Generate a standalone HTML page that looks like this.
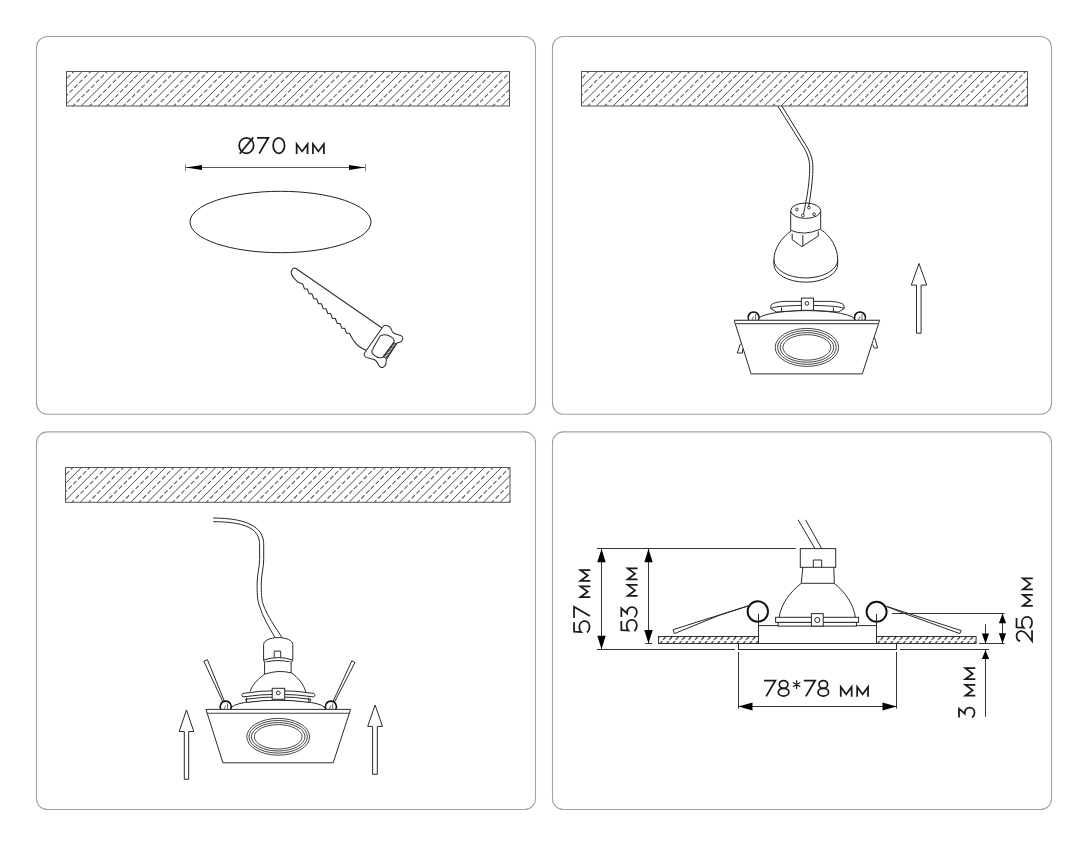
<!DOCTYPE html>
<html><head><meta charset="utf-8">
<style>
html,body{margin:0;padding:0;background:#fff;width:1088px;height:846px;overflow:hidden}
svg{display:block}
</style></head><body>
<svg width="1088" height="846" viewBox="0 0 1088 846">
<defs>
<pattern id="hat2" patternUnits="userSpaceOnUse" width="6.4" height="7" x="0" y="636.5" patternTransform="skewX(-40)">
<path d="M3.2,0 V3.3 M3.2,4.3 V7" stroke="#2a2a2a" stroke-width="1.55" fill="none"/>
</pattern>
</defs>

<g fill="none" stroke="#a2a2a2" stroke-width="1.1">
<rect x="36.5" y="36.5" width="499" height="377.8" rx="11"/>
<rect x="552.5" y="36.5" width="499" height="377.8" rx="11"/>
<rect x="36.5" y="431.9" width="499" height="377.6" rx="11"/>
<rect x="552.5" y="431.9" width="499" height="377.6" rx="11"/>
</g>
<clipPath id="cb1"><rect x="66.5" y="71.5" width="443.0" height="34.5"/></clipPath>
<g clip-path="url(#cb1)"><path d="M29.90,107.00 L66.40,70.50 M46.70,107.00 L83.20,70.50 M63.50,107.00 L100.00,70.50 M80.30,107.00 L116.80,70.50 M97.10,107.00 L133.60,70.50 M113.90,107.00 L150.40,70.50 M130.70,107.00 L167.20,70.50 M147.50,107.00 L184.00,70.50 M164.30,107.00 L200.80,70.50 M181.10,107.00 L217.60,70.50 M197.90,107.00 L234.40,70.50 M214.70,107.00 L251.20,70.50 M231.50,107.00 L268.00,70.50 M248.30,107.00 L284.80,70.50 M265.10,107.00 L301.60,70.50 M281.90,107.00 L318.40,70.50 M298.70,107.00 L335.20,70.50 M315.50,107.00 L352.00,70.50 M332.30,107.00 L368.80,70.50 M349.10,107.00 L385.60,70.50 M365.90,107.00 L402.40,70.50 M382.70,107.00 L419.20,70.50 M399.50,107.00 L436.00,70.50 M416.30,107.00 L452.80,70.50 M433.10,107.00 L469.60,70.50 M449.90,107.00 L486.40,70.50 M466.70,107.00 L503.20,70.50 M483.50,107.00 L520.00,70.50 M500.30,107.00 L536.80,70.50 " fill="none" stroke="#4e4e4e" stroke-width="1.0"/><path d="M38.30,107.00 L74.80,70.50 M55.10,107.00 L91.60,70.50 M71.90,107.00 L108.40,70.50 M88.70,107.00 L125.20,70.50 M105.50,107.00 L142.00,70.50 M122.30,107.00 L158.80,70.50 M139.10,107.00 L175.60,70.50 M155.90,107.00 L192.40,70.50 M172.70,107.00 L209.20,70.50 M189.50,107.00 L226.00,70.50 M206.30,107.00 L242.80,70.50 M223.10,107.00 L259.60,70.50 M239.90,107.00 L276.40,70.50 M256.70,107.00 L293.20,70.50 M273.50,107.00 L310.00,70.50 M290.30,107.00 L326.80,70.50 M307.10,107.00 L343.60,70.50 M323.90,107.00 L360.40,70.50 M340.70,107.00 L377.20,70.50 M357.50,107.00 L394.00,70.50 M374.30,107.00 L410.80,70.50 M391.10,107.00 L427.60,70.50 M407.90,107.00 L444.40,70.50 M424.70,107.00 L461.20,70.50 M441.50,107.00 L478.00,70.50 M458.30,107.00 L494.80,70.50 M475.10,107.00 L511.60,70.50 M491.90,107.00 L528.40,70.50 M508.70,107.00 L545.20,70.50 " fill="none" stroke="#606060" stroke-width="1.1" stroke-dasharray="4.6 2.2"/></g>
<rect x="66.5" y="71.5" width="443.0" height="34.5" fill="none" stroke="#555" stroke-width="1"/>
<clipPath id="cb2"><rect x="581.5" y="71.5" width="446.0" height="34.5"/></clipPath>
<g clip-path="url(#cb2)"><path d="M544.90,107.00 L581.40,70.50 M561.70,107.00 L598.20,70.50 M578.50,107.00 L615.00,70.50 M595.30,107.00 L631.80,70.50 M612.10,107.00 L648.60,70.50 M628.90,107.00 L665.40,70.50 M645.70,107.00 L682.20,70.50 M662.50,107.00 L699.00,70.50 M679.30,107.00 L715.80,70.50 M696.10,107.00 L732.60,70.50 M712.90,107.00 L749.40,70.50 M729.70,107.00 L766.20,70.50 M746.50,107.00 L783.00,70.50 M763.30,107.00 L799.80,70.50 M780.10,107.00 L816.60,70.50 M796.90,107.00 L833.40,70.50 M813.70,107.00 L850.20,70.50 M830.50,107.00 L867.00,70.50 M847.30,107.00 L883.80,70.50 M864.10,107.00 L900.60,70.50 M880.90,107.00 L917.40,70.50 M897.70,107.00 L934.20,70.50 M914.50,107.00 L951.00,70.50 M931.30,107.00 L967.80,70.50 M948.10,107.00 L984.60,70.50 M964.90,107.00 L1001.40,70.50 M981.70,107.00 L1018.20,70.50 M998.50,107.00 L1035.00,70.50 M1015.30,107.00 L1051.80,70.50 " fill="none" stroke="#4e4e4e" stroke-width="1.0"/><path d="M553.30,107.00 L589.80,70.50 M570.10,107.00 L606.60,70.50 M586.90,107.00 L623.40,70.50 M603.70,107.00 L640.20,70.50 M620.50,107.00 L657.00,70.50 M637.30,107.00 L673.80,70.50 M654.10,107.00 L690.60,70.50 M670.90,107.00 L707.40,70.50 M687.70,107.00 L724.20,70.50 M704.50,107.00 L741.00,70.50 M721.30,107.00 L757.80,70.50 M738.10,107.00 L774.60,70.50 M754.90,107.00 L791.40,70.50 M771.70,107.00 L808.20,70.50 M788.50,107.00 L825.00,70.50 M805.30,107.00 L841.80,70.50 M822.10,107.00 L858.60,70.50 M838.90,107.00 L875.40,70.50 M855.70,107.00 L892.20,70.50 M872.50,107.00 L909.00,70.50 M889.30,107.00 L925.80,70.50 M906.10,107.00 L942.60,70.50 M922.90,107.00 L959.40,70.50 M939.70,107.00 L976.20,70.50 M956.50,107.00 L993.00,70.50 M973.30,107.00 L1009.80,70.50 M990.10,107.00 L1026.60,70.50 M1006.90,107.00 L1043.40,70.50 M1023.70,107.00 L1060.20,70.50 " fill="none" stroke="#606060" stroke-width="1.1" stroke-dasharray="4.6 2.2"/></g>
<rect x="581.5" y="71.5" width="446.0" height="34.5" fill="none" stroke="#555" stroke-width="1"/>
<clipPath id="cb3"><rect x="65.5" y="467.5" width="444.5" height="34.80000000000001"/></clipPath>
<g clip-path="url(#cb3)"><path d="M12.00,503.30 L48.80,466.50 M28.80,503.30 L65.60,466.50 M45.60,503.30 L82.40,466.50 M62.40,503.30 L99.20,466.50 M79.20,503.30 L116.00,466.50 M96.00,503.30 L132.80,466.50 M112.80,503.30 L149.60,466.50 M129.60,503.30 L166.40,466.50 M146.40,503.30 L183.20,466.50 M163.20,503.30 L200.00,466.50 M180.00,503.30 L216.80,466.50 M196.80,503.30 L233.60,466.50 M213.60,503.30 L250.40,466.50 M230.40,503.30 L267.20,466.50 M247.20,503.30 L284.00,466.50 M264.00,503.30 L300.80,466.50 M280.80,503.30 L317.60,466.50 M297.60,503.30 L334.40,466.50 M314.40,503.30 L351.20,466.50 M331.20,503.30 L368.00,466.50 M348.00,503.30 L384.80,466.50 M364.80,503.30 L401.60,466.50 M381.60,503.30 L418.40,466.50 M398.40,503.30 L435.20,466.50 M415.20,503.30 L452.00,466.50 M432.00,503.30 L468.80,466.50 M448.80,503.30 L485.60,466.50 M465.60,503.30 L502.40,466.50 M482.40,503.30 L519.20,466.50 M499.20,503.30 L536.00,466.50 " fill="none" stroke="#4e4e4e" stroke-width="1.0"/><path d="M20.40,503.30 L57.20,466.50 M37.20,503.30 L74.00,466.50 M54.00,503.30 L90.80,466.50 M70.80,503.30 L107.60,466.50 M87.60,503.30 L124.40,466.50 M104.40,503.30 L141.20,466.50 M121.20,503.30 L158.00,466.50 M138.00,503.30 L174.80,466.50 M154.80,503.30 L191.60,466.50 M171.60,503.30 L208.40,466.50 M188.40,503.30 L225.20,466.50 M205.20,503.30 L242.00,466.50 M222.00,503.30 L258.80,466.50 M238.80,503.30 L275.60,466.50 M255.60,503.30 L292.40,466.50 M272.40,503.30 L309.20,466.50 M289.20,503.30 L326.00,466.50 M306.00,503.30 L342.80,466.50 M322.80,503.30 L359.60,466.50 M339.60,503.30 L376.40,466.50 M356.40,503.30 L393.20,466.50 M373.20,503.30 L410.00,466.50 M390.00,503.30 L426.80,466.50 M406.80,503.30 L443.60,466.50 M423.60,503.30 L460.40,466.50 M440.40,503.30 L477.20,466.50 M457.20,503.30 L494.00,466.50 M474.00,503.30 L510.80,466.50 M490.80,503.30 L527.60,466.50 M507.60,503.30 L544.40,466.50 " fill="none" stroke="#606060" stroke-width="1.1" stroke-dasharray="4.6 2.2"/></g>
<rect x="65.5" y="467.5" width="444.5" height="34.80000000000001" fill="none" stroke="#555" stroke-width="1"/>
<g fill="none" stroke="#1a1a1a" stroke-width="1.75" stroke-linecap="butt"><ellipse cx="246.40" cy="145.50" rx="7.25" ry="7.75"/><path d="M239.70,153.70 L253.30,137.40"/><path d="M257.10,137.75 L268.40,137.75 L259.20,153.60"/><ellipse cx="278.85" cy="145.50" rx="5.70" ry="7.75"/><path d="M296.65,154.00 L296.65,144.10 L302.10,151.40 L307.55,144.10 L307.55,154.00" stroke-linejoin="miter"/><path d="M312.95,154.00 L312.95,144.10 L318.40,151.40 L323.85,144.10 L323.85,154.00" stroke-linejoin="miter"/></g>
<g stroke="#444" stroke-width="0.9" fill="none">
<line x1="186" y1="167.5" x2="365" y2="167.5"/>
<line x1="185.5" y1="164.2" x2="185.5" y2="171" stroke="#777"/>
<line x1="365.5" y1="164.2" x2="365.5" y2="171" stroke="#777"/>
</g>
<path d="M186,167.5 L202,165 L202,170 Z M365,167.5 L349,165 L349,170 Z" fill="#000"/>
<ellipse cx="280.5" cy="222" rx="90.5" ry="30.7" fill="none" stroke="#222" stroke-width="1"/>
<path d="M381.7,327.8 L296.0,268.5 C293.5,267.0 290.8,270.0 291.3,273.3 C291.8,276 295,279.5 298.5,282.5 L302.7,284.0 L302.70,284.00 L304.44,288.90 L307.37,288.93 L309.11,293.83 L312.04,293.86 L313.78,298.76 L316.71,298.79 L318.45,303.69 L321.38,303.72 L323.12,308.62 L326.05,308.65 L327.79,313.55 L330.72,313.58 L332.46,318.48 L335.39,318.51 L337.13,323.41 L340.06,323.44 L341.80,328.34 L344.73,328.37 L346.47,333.27 L349.40,333.30 C352.5,339.5 356.5,347 366.4,350.2" fill="none" stroke="#2e2e2e" stroke-width="1.05" stroke-linejoin="round"/>
<path d="M364.4,353.2 L383.6,325.8 C385,324.6 388.5,325.5 390.1,327.2 C391.5,329 391.5,331.5 393.5,333 C396,334.8 400.5,334.5 402.3,336.8 C403.6,338.6 402.5,341.5 399.8,342.2 C398.5,342.6 397.6,342.7 397.3,342.8 L386.2,359.7 C386.5,362.5 386,365.5 383.5,367 C381,368.3 379.3,366.5 378.3,364.5 C377.3,362 376.5,360.3 373.5,359.3 C370.5,358.3 366.5,358.5 365,356.5 C364,355.3 364,354.2 364.4,353.2 Z" fill="#fff" stroke="#2e2e2e" stroke-width="1.05" stroke-linejoin="round"/>
<path d="M381.5,335.2 C386,334 391,336 393.5,339 C394.5,340.5 394.3,341.8 393.6,342.6 L382.6,357.2 C380,358.2 376.5,357.5 374,355.2 C371.5,353 371.5,351 372.5,349.5 L379.5,337 C380,336 380.6,335.5 381.5,335.2 Z" fill="#fff" stroke="#2e2e2e" stroke-width="1.05"/>
<path d="M394.2,342.3 L383.2,357.8 M396.8,343.0 L385.8,359.0 M393.70,343.00 L396.30,343.73 M392.70,344.41 L395.30,345.18 M391.70,345.82 L394.30,346.64 M390.70,347.23 L393.30,348.09 M389.70,348.64 L392.30,349.55 M388.70,350.05 L391.30,351.00 M387.70,351.46 L390.30,352.45 M386.70,352.87 L389.30,353.91 M385.70,354.28 L388.30,355.36 M384.70,355.69 L387.30,356.82 M383.70,357.10 L386.30,358.27 " fill="none" stroke="#2a2a2a" stroke-width="0.9"/>
<path d="M790.7,210.7 V230.2 Q804,236.5 820.7,229 V210.7" fill="#fff" stroke="#2a2a2a" stroke-width="1"/>
<ellipse cx="805.7" cy="210.7" rx="15" ry="7.7" fill="#fff" stroke="#2a2a2a" stroke-width="1"/>
<path d="M777.7,106 L801,143 C806.5,151.5 809.7,158 809.7,168 C809.7,176 808.6,186 807,196 L803.3,215.1 M781.9,106 L804.5,143 C810,151.5 812.9,158 812.9,168 C812.9,176 811.8,186 810.2,197 L808.6,206.6" fill="none" stroke="#2a2a2a" stroke-width="1"/>
<g fill="#fff" stroke="#2a2a2a" stroke-width="0.9">
<circle cx="796.9" cy="209.5" r="1.4"/>
<circle cx="814" cy="214.2" r="1.4"/>
<circle cx="802.8" cy="215.4" r="1.4"/>
<circle cx="808.9" cy="207.6" r="1.4"/>
</g>
<path d="M792.2,233.7 V239.6 L801.8,246.7 L818.2,236.1 V231.4 M802.8,234.8 V246.2" fill="none" stroke="#2a2a2a" stroke-width="1"/>
<path d="M791.2,231 C781,238 774,249 773.9,259.7 V264.4 M820.6,229.4 C831,236 837.7,248 837.7,259.7 V264.4" fill="none" stroke="#2a2a2a" stroke-width="1"/>
<path d="M773.9,259.7 A31.9,18.3 0 0 0 837.7,259.7 M773.9,264.4 A31.9,17.8 0 0 0 837.7,264.4" fill="none" stroke="#2a2a2a" stroke-width="1"/>
<path d="M757.9,319.8 A48.4,9.2 0 0 1 854.7,319.8" fill="none" stroke="#2a2a2a" stroke-width="1"/>
<path d="M801.4,301.4 L784,301.4 C777,301.8 772,303.5 771.2,305 C770.6,306.2 770.7,307.6 770.8,308.5 M801.4,305.4 C792,305.6 781.5,306.2 777,306.8 C774,307.3 772,307.9 770.8,308.5 L776.2,312 C785,311.5 793,310.8 801.4,310.3 M781.5,307.4 V311.8" fill="#fff" stroke="#2a2a2a" stroke-width="1"/>
<path d="M801.4,301.4 L784,301.4 C777,301.8 772,303.5 771.2,305 C770.6,306.2 770.7,307.6 770.8,308.5 M801.4,305.4 C792,305.6 781.5,306.2 777,306.8 C774,307.3 772,307.9 770.8,308.5 L776.2,312 C785,311.5 793,310.8 801.4,310.3 M781.5,307.4 V311.8" fill="#fff" stroke="#2a2a2a" stroke-width="1" transform="translate(1614.9,0) scale(-1,1)"/>
<rect x="801.4" y="298.1" width="12.1" height="12.2" fill="#fff" stroke="#2a2a2a" stroke-width="1"/>
<circle cx="806.9" cy="303.4" r="1.9" fill="none" stroke="#2a2a2a" stroke-width="1"/>
<path d="M748.8,320.2 A5.5,5.5 0 1 1 758.4,320.2" fill="#fff" stroke="#111" stroke-width="1.6"/>
<path d="M755.6,314 V320 M752.0,320 L753.7,316.4" fill="none" stroke="#444" stroke-width="0.8"/>
<path d="M855.2,320.2 A5.5,5.5 0 1 1 864.8,320.2" fill="#fff" stroke="#111" stroke-width="1.6"/>
<path d="M862.0,314 V320 M858.4,320 L860.1,316.4" fill="none" stroke="#444" stroke-width="0.8"/>
<path d="M734.2,320.4 L751.1,373.9 H862.3 L879.6,320.4 Z" fill="#fff" stroke="#2a2a2a" stroke-width="1"/>
<path d="M734.2,320.4 H879.6 M735.5,323.6 H878.5" fill="none" stroke="#555" stroke-width="1.1"/>
<path d="M740.4,343.8 L737.3,353 L742.3,353 L743,348 M874.6,337.6 L877.6,348 L874.2,348 L872.6,344.6" fill="#fff" stroke="#2a2a2a" stroke-width="1"/>
<g fill="none" stroke="#333" stroke-width="0.9">
<ellipse cx="806.9" cy="347.4" rx="31.7" ry="19.0"/>
<ellipse cx="806.9" cy="347.4" rx="29.3" ry="16.9"/>
<ellipse cx="806.9" cy="347.4" rx="26.8" ry="14.8"/>
<ellipse cx="806.9" cy="347.4" rx="24.0" ry="12.75"/>
</g>
<path d="M919,263.5 L926.7,285.1 L921.1,285.1 L921.1,333.2 L916.5,333.2 L916.5,285.1 L911.3,285.1 Z" fill="none" stroke="#2a2a2a" stroke-width="1" stroke-linejoin="miter"/>
<path d="M213.2,518 C228,518.3 246,519.5 256.3,528.2 C262,533 263.7,538 263.7,545 L263.7,559.7 C263.7,567 261.3,575 261.3,583 C261.3,592 261.5,600 263,604 C267,616 276,628 282.2,637.8 M213.2,521.6 C228,521.9 244,523 253,529.9 C258.3,534.5 259.6,539 259.6,546 L259.6,559.7 C259.6,567 257.1,575 257.1,583 C257.1,592 257.3,600 258.8,604 C262.5,617 269.5,628 275.2,637.8" fill="none" stroke="#2a2a2a" stroke-width="1"/>
<path d="M263.6,660.1 V644.5 C263.6,640.5 270,637.6 278.2,637.6 C286.5,637.6 292.8,640.5 292.8,644.5 V660.1 Q278.2,655 263.6,660.1 Z" fill="#fff" stroke="#2a2a2a" stroke-width="1"/>
<path d="M274.2,657.6 V651.1 H280.7 V657.6" fill="none" stroke="#2a2a2a" stroke-width="1"/>
<path d="M263.6,660.1 L264.4,662.3 Q278.2,658.8 291.4,662.3 L292.8,660.1" fill="none" stroke="#2a2a2a" stroke-width="1"/>
<path d="M264.6,662.2 L264.6,674.2 Q278,669.6 291.2,672.8 L291.1,662.2" fill="#fff" stroke="#2a2a2a" stroke-width="1"/>
<path d="M264.6,674.2 C258,679 252,685 250.1,691.5 M291.2,672.8 C298,677 304,685 305.8,692" fill="none" stroke="#2a2a2a" stroke-width="1"/>
<path d="M231,708.5 A47,8.5 0 0 1 325,708.5" fill="none" stroke="#2a2a2a" stroke-width="1"/>
<path d="M245.5,699.3 Q278.2,694.5 311,699.3 L309.5,702.4 Q278.2,698 247,702.4 Z" fill="#fff" stroke="#2a2a2a" stroke-width="1"/>
<path d="M243,693.4 Q278.2,687.8 313.8,693.4 C315.3,694.2 315.3,696.3 313.8,696.9 Q278.2,691.6 243,696.9 C241.5,696.3 241.5,694.2 243,693.4 Z" fill="#fff" stroke="#2a2a2a" stroke-width="1"/>
<path d="M246.6,697.5 V702.3 M308.8,697.5 V702.3" fill="none" stroke="#2a2a2a" stroke-width="1"/>
<rect x="272.2" y="688.3" width="12.5" height="11" fill="#fff" stroke="#2a2a2a" stroke-width="1"/>
<circle cx="278.3" cy="692.9" r="1.9" fill="none" stroke="#2a2a2a" stroke-width="1"/>
<path d="M203.8,661.3 L207.4,659.7 L224.6,701.8 L223.2,702.4 Z M351.8,660.9 L355.0,662.5 L334.6,701.8 L333.2,701.2 Z" fill="#fff" stroke="#2a2a2a" stroke-width="1"/>
<path d="M220.9,709.3 A5.5,5.5 0 1 1 230.5,709.3" fill="#fff" stroke="#111" stroke-width="1.6"/>
<path d="M227.5,703.5 V709 M224.1,709 L225.8,705.5" fill="none" stroke="#444" stroke-width="0.8"/>
<path d="M326.1,709.3 A5.5,5.5 0 1 1 335.7,709.3" fill="#fff" stroke="#111" stroke-width="1.6"/>
<path d="M332.7,703.5 V709 M329.3,709 L331.0,705.5" fill="none" stroke="#444" stroke-width="0.8"/>
<path d="M206,709.4 L222.9,762.8 H333.2 L350.6,709.4 Z" fill="#fff" stroke="#2a2a2a" stroke-width="1"/>
<path d="M205.6,709.5 H350.7 M206.3,713.3 H350.2" fill="none" stroke="#444" stroke-width="1.1"/>
<g fill="none" stroke="#333" stroke-width="0.9">
<ellipse cx="278.2" cy="736.8" rx="31.4" ry="18.4"/>
<ellipse cx="278.2" cy="736.8" rx="29.2" ry="16.3"/>
<ellipse cx="278.2" cy="736.8" rx="26.8" ry="14.2"/>
<ellipse cx="278.2" cy="736.8" rx="23.9" ry="12.2"/>
</g>
<path d="M186.5,709.9 L193.8,731.5 L188.7,731.5 L188.7,779.3 L184.3,779.3 L184.3,731.5 L179.2,731.5 Z" fill="none" stroke="#2a2a2a" stroke-width="1" stroke-linejoin="miter"/>
<path d="M375.1,705.0 L382.5,726.4 L377.3,726.4 L377.3,774.3 L372.6,774.3 L372.6,726.4 L367.7,726.4 Z" fill="none" stroke="#2a2a2a" stroke-width="1" stroke-linejoin="miter"/>
<rect x="658.5" y="636.5" width="100" height="7" fill="url(#hat2)" stroke="#333" stroke-width="1"/>
<rect x="876.5" y="636.5" width="99.6" height="7" fill="url(#hat2)" stroke="#333" stroke-width="1"/>
<path d="M758.5,613.8 V643.5 M876.5,613.8 V643.5 M758.5,625.6 H876.5" fill="none" stroke="#2a2a2a" stroke-width="1"/>
<rect x="738.5" y="643.5" width="158" height="6" fill="#fff" stroke="#2a2a2a" stroke-width="1"/>
<circle cx="757.8" cy="611.5" r="10.2" fill="#fff" stroke="#111" stroke-width="1.9"/>
<circle cx="876.6" cy="611.8" r="10.0" fill="#fff" stroke="#111" stroke-width="1.9"/>
<path d="M758.5,613.8 V636.5 M876.5,614 V636.5" fill="none" stroke="#2a2a2a" stroke-width="1"/>
<path d="M674.4,633.6 L673.2,629.6 L748.2,605.9 L718,615.8 Z M886.4,606.3 L961.2,630.6 L959.8,633.6 L902,612.6 Z" fill="#fff" stroke="#2a2a2a" stroke-width="1" stroke-linejoin="round"/>
<path d="M798.1,519.8 L815,548.6 M805.5,519.8 L821.7,548.6" fill="none" stroke="#2a2a2a" stroke-width="1"/>
<rect x="800.3" y="548.6" width="35.4" height="18.7" fill="#fff" stroke="#2a2a2a" stroke-width="1"/>
<path d="M813.3,567.3 V560 H821.7 V567.3" fill="none" stroke="#2a2a2a" stroke-width="1"/>
<path d="M802.8,567.3 L801.3,583.3 H834.3 L833.8,567.3" fill="none" stroke="#2a2a2a" stroke-width="1"/>
<path d="M801.3,583.3 C790,592 781,604 779.2,617.3 M834.3,583.3 C845,592 853.5,604 855.4,617.3" fill="none" stroke="#2a2a2a" stroke-width="1"/>
<rect x="775.6" y="617.3" width="83" height="5.1" fill="#fff" stroke="#2a2a2a" stroke-width="1"/>
<rect x="778.1" y="622.4" width="78.3" height="3.7" fill="#fff" stroke="#2a2a2a" stroke-width="1"/>
<rect x="811.4" y="613.6" width="11.8" height="12.5" fill="#fff" stroke="#2a2a2a" stroke-width="1"/>
<circle cx="817.3" cy="620" r="2.6" fill="none" stroke="#2a2a2a" stroke-width="1"/>
<path d="M596.9,548.5 H795.7 M596.9,649.5 H735 M601.5,548.7 V649.1 M648.5,548.7 V643.4 M645.3,643.5 H652.2" fill="none" stroke="#2a2a2a" stroke-width="0.95"/>
<path d="M892,613.5 H1004.6 M979,643.5 H1004.6 M1002.5,613.2 V643.4 M899.9,649.5 H989 M985.5,624.2 V643.4 M985.5,649.9 V716.7" fill="none" stroke="#2a2a2a" stroke-width="0.95"/>
<path d="M738.5,652 V708.6 M896.5,652 V708.6 M738.5,706.5 H896.5" fill="none" stroke="#2a2a2a" stroke-width="0.95"/>
<path d="M601.5,548.7 L605.7,562.3 L597.3,562.3 Z M601.5,649.3 L605.7,635.7 L597.3,635.7 Z M648.5,548.7 L652.7,562.3 L644.3,562.3 Z M648.5,643.5 L652.7,629.9 L644.3,629.9 Z M1002.5,613.4 L1006.1,623.3 L998.9,623.3 Z M1002.5,643.5 L1006.1,633.3 L998.9,633.3 Z M985.5,643.5 L989.1,633.4 L981.9,633.4 Z M985.5,649.9 L989.1,659.1 L981.9,659.1 Z M738.5,706.5 L752.5,710.5 L752.5,702.5 Z M896.5,706.5 L882.5,710.5 L882.5,702.5 Z " fill="#000"/>
<g fill="none" stroke="#1a1a1a" stroke-width="1.75" stroke-linecap="butt"><path d="M764.10,680.55 L775.40,680.55 L766.20,696.40"/><ellipse cx="783.60" cy="684.40" rx="4.30" ry="3.85"/><ellipse cx="783.60" cy="692.15" rx="5.30" ry="3.90"/><path d="M796.60,684.60 L796.60,680.30 M796.60,684.60 L800.32,682.45 M796.60,684.60 L792.88,682.45 M796.60,684.60 L792.88,686.75 M796.60,684.60 L800.32,686.75 M796.60,684.60 L796.60,688.90 " stroke-width="1.20"/><path d="M803.80,680.55 L815.10,680.55 L805.90,696.40"/><ellipse cx="823.30" cy="684.40" rx="4.30" ry="3.85"/><ellipse cx="823.30" cy="692.15" rx="5.30" ry="3.90"/><path d="M840.75,696.80 L840.75,686.90 L846.20,694.20 L851.65,686.90 L851.65,696.80" stroke-linejoin="miter"/><path d="M857.15,696.80 L857.15,686.90 L862.60,694.20 L868.05,686.90 L868.05,696.80" stroke-linejoin="miter"/></g>
<g fill="none" stroke="#1a1a1a" stroke-width="1.75" stroke-linecap="butt" transform="translate(590.3,633.6) rotate(-90)"><path d="M11.30,-16.25 L2.00,-16.25 L1.60,-9.20 C3.00,-10.60 4.80,-11.00 6.60,-11.00 C10.00,-11.00 12.40,-8.60 12.40,-5.70 C12.40,-2.60 9.90,-0.75 6.60,-0.75 C4.30,-0.75 2.40,-1.80 1.10,-3.20"/><path d="M15.50,-16.25 L26.80,-16.25 L17.60,-0.40"/><path d="M36.35,0.00 L36.35,-9.90 L41.80,-2.60 L47.25,-9.90 L47.25,0.00" stroke-linejoin="miter"/><path d="M52.65,0.00 L52.65,-9.90 L58.10,-2.60 L63.55,-9.90 L63.55,0.00" stroke-linejoin="miter"/></g>
<g fill="none" stroke="#1a1a1a" stroke-width="1.75" stroke-linecap="butt" transform="translate(637.6,632.2) rotate(-90)"><path d="M11.30,-16.25 L2.00,-16.25 L1.60,-9.20 C3.00,-10.60 4.80,-11.00 6.60,-11.00 C10.00,-11.00 12.40,-8.60 12.40,-5.70 C12.40,-2.60 9.90,-0.75 6.60,-0.75 C4.30,-0.75 2.40,-1.80 1.10,-3.20"/><path d="M15.08,-16.25 L23.90,-16.25 L18.86,-10.60 C22.64,-10.90 24.98,-8.60 24.98,-5.60 C24.98,-2.60 22.73,-0.75 19.85,-0.75 C17.78,-0.75 16.07,-1.80 14.90,-3.20"/><path d="M36.35,0.00 L36.35,-9.90 L41.80,-2.60 L47.25,-9.90 L47.25,0.00" stroke-linejoin="miter"/><path d="M52.95,0.00 L52.95,-9.90 L58.40,-2.60 L63.85,-9.90 L63.85,0.00" stroke-linejoin="miter"/></g>
<g fill="none" stroke="#1a1a1a" stroke-width="1.75" stroke-linecap="butt" transform="translate(1032.8,642.5) rotate(-90)"><path d="M1.30,-12.60 C2.00,-15.00 4.00,-16.25 6.30,-16.25 C9.40,-16.25 11.50,-14.20 11.50,-11.40 C11.50,-9.40 10.40,-8.00 9.00,-6.60 L1.50,-0.75 L12.30,-0.75"/><path d="M24.50,-16.25 L15.20,-16.25 L14.80,-9.20 C16.20,-10.60 18.00,-11.00 19.80,-11.00 C23.20,-11.00 25.60,-8.60 25.60,-5.70 C25.60,-2.60 23.10,-0.75 19.80,-0.75 C17.50,-0.75 15.60,-1.80 14.30,-3.20"/><path d="M36.75,0.00 L36.75,-9.90 L42.20,-2.60 L47.65,-9.90 L47.65,0.00" stroke-linejoin="miter"/><path d="M53.15,0.00 L53.15,-9.90 L58.60,-2.60 L64.05,-9.90 L64.05,0.00" stroke-linejoin="miter"/></g>
<g fill="none" stroke="#1a1a1a" stroke-width="1.75" stroke-linecap="butt" transform="translate(975.3,718.6) rotate(-90)"><path d="M1.08,-16.25 L9.90,-16.25 L4.86,-10.60 C8.64,-10.90 10.98,-8.60 10.98,-5.60 C10.98,-2.60 8.73,-0.75 5.85,-0.75 C3.78,-0.75 2.07,-1.80 0.90,-3.20"/><path d="M22.85,0.00 L22.85,-9.90 L28.30,-2.60 L33.75,-9.90 L33.75,0.00" stroke-linejoin="miter"/><path d="M39.45,0.00 L39.45,-9.90 L44.90,-2.60 L50.35,-9.90 L50.35,0.00" stroke-linejoin="miter"/></g>
</svg>
</body></html>
